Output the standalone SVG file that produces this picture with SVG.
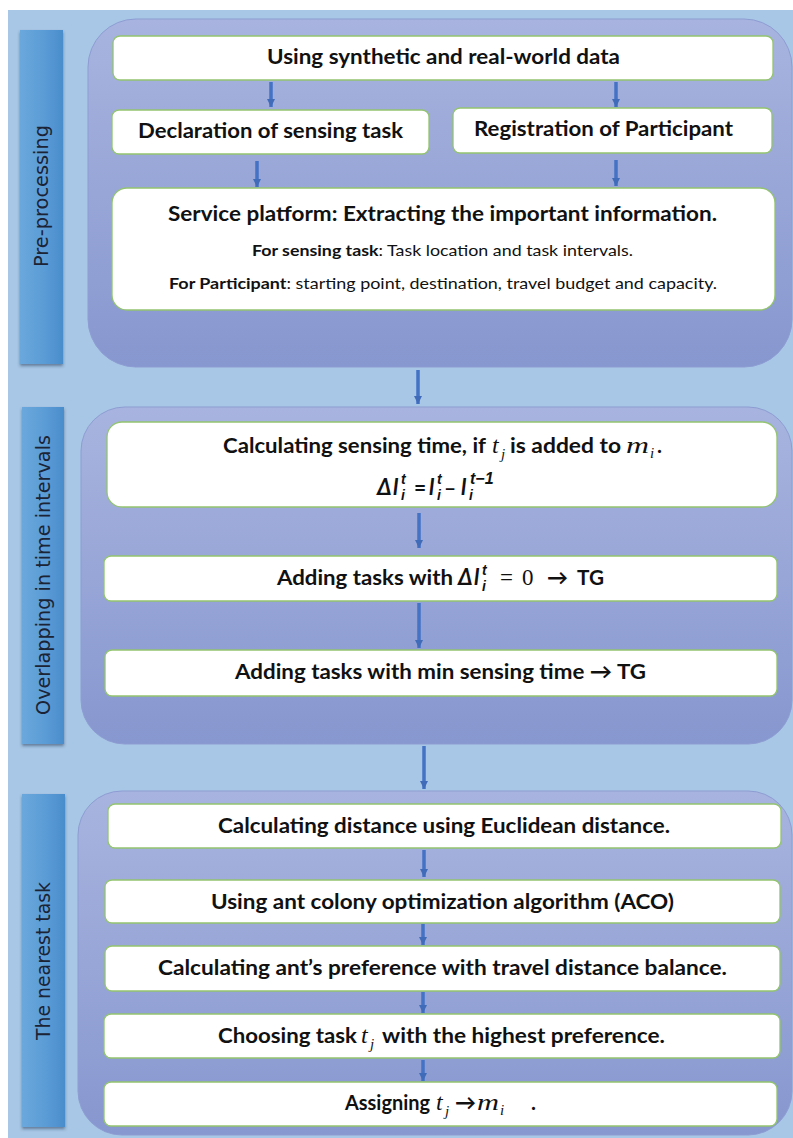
<svg xmlns="http://www.w3.org/2000/svg" width="793" height="1138" viewBox="0 0 793 1138">
<defs>
<linearGradient id="gPanel" x1="0" y1="0" x2="0" y2="1">
<stop offset="0" stop-color="#a8b4df"/>
<stop offset="1" stop-color="#8797cf"/>
</linearGradient>
<linearGradient id="gBar" x1="0" y1="0" x2="1" y2="0">
<stop offset="0" stop-color="#6aa8dc"/>
<stop offset="0.55" stop-color="#5b9cd6"/>
<stop offset="1" stop-color="#4a8dcc"/>
</linearGradient>
<filter id="sh" x="-20%" y="-5%" width="140%" height="115%">
<feDropShadow dx="0" dy="2" stdDeviation="1.5" flood-color="#2c3e5c" flood-opacity="0.55"/>
</filter>
<marker id="ah" viewBox="0 0 8 8" refX="8" refY="4" markerWidth="8" markerHeight="8" markerUnits="userSpaceOnUse" orient="auto">
<path d="M0,0 L8,4 L0,8 z" fill="#3f6bb8"/>
</marker>
<style>
.panel{fill:url(#gPanel);stroke:#8d9dd3;stroke-width:1}
.bar{fill:url(#gBar);filter:url(#sh)}
.box{fill:#ffffff;stroke:#93c46f;stroke-width:1.3}
.b{font-family:Lato,"Liberation Sans",sans-serif;font-weight:700;font-size:21px;fill:#111111}
.r{font-family:Lato,"Liberation Sans",sans-serif;font-weight:400;font-size:16px;fill:#111111}
.rb{font-family:Lato,"Liberation Sans",sans-serif;font-weight:700;font-size:16px;fill:#111111}
.m{font-family:"Liberation Serif","DejaVu Serif",serif;font-style:italic;font-size:24px;fill:#111111}
.mr{font-family:"Liberation Serif","DejaVu Serif",serif;font-size:23px;fill:#111111}
.ms{font-family:"Liberation Serif","DejaVu Serif",serif;font-style:italic;font-size:15px;fill:#111111}
.bi{font-family:Lato,"Liberation Sans",sans-serif;font-weight:700;font-style:italic;font-size:22px;fill:#111111}
.bis{font-family:"Liberation Sans",sans-serif;font-weight:700;font-style:italic;font-size:14px;fill:#111111}
.lab{font-family:"DejaVu Sans","Open Sans",sans-serif;font-size:19px;fill:#1b2335}
.c{text-anchor:middle}
.arr{stroke:#4472c4;stroke-width:3.5;fill:none;marker-end:url(#ah)}
</style>
</defs>

<rect x="8" y="10" width="785" height="1128" fill="#a8c6e5"/>

<g id="panel-preprocessing">
<rect class="panel" x="88" y="19" width="704" height="348" rx="48" ry="48"/>
</g>
<g id="panel-overlapping">
<rect class="panel" x="81" y="407" width="711" height="337" rx="44" ry="44"/>
</g>
<g id="panel-nearest">
<rect class="panel" x="78" y="791" width="714" height="344" rx="44" ry="44"/>
</g>

<g id="bar-preprocessing">
<rect class="bar" x="20" y="30" width="43" height="334"/>
<text class="lab c" transform="translate(48,196) rotate(-90)" textLength="142" lengthAdjust="spacingAndGlyphs">Pre-processing</text>
</g>
<g id="bar-overlapping">
<rect class="bar" x="22" y="407" width="42" height="337"/>
<text class="lab c" transform="translate(50,575) rotate(-90)" textLength="280" lengthAdjust="spacingAndGlyphs">Overlapping in time intervals</text>
</g>
<g id="bar-nearest">
<rect class="bar" x="22" y="794" width="43" height="333"/>
<text class="lab c" transform="translate(50,961) rotate(-90)" textLength="158" lengthAdjust="spacingAndGlyphs">The nearest task</text>
</g>

<g id="node-data">
<rect class="box" x="113" y="36" width="660" height="44" rx="7"/>
<text class="b c" x="443.5" y="64" textLength="353" lengthAdjust="spacingAndGlyphs">Using synthetic and real-world data</text>
</g>
<g id="node-declaration">
<rect class="box" x="112" y="110" width="317" height="44" rx="7"/>
<text class="b c" x="270.5" y="138" textLength="265" lengthAdjust="spacingAndGlyphs">Declaration of sensing task</text>
</g>
<g id="node-registration">
<rect class="box" x="453" y="108" width="319" height="45" rx="7"/>
<text class="b c" x="603.5" y="136" textLength="259" lengthAdjust="spacingAndGlyphs">Registration of Participant</text>
</g>
<g id="node-service">
<rect class="box" x="112" y="188" width="663" height="122" rx="15"/>
<text class="b c" x="442.5" y="221" textLength="549" lengthAdjust="spacingAndGlyphs">Service platform: Extracting the important information.</text>
<text class="r c" x="442.5" y="256" textLength="381" lengthAdjust="spacingAndGlyphs"><tspan class="rb">For sensing task</tspan>: Task location and task intervals.</text>
<text class="r c" x="443" y="289" textLength="548" lengthAdjust="spacingAndGlyphs"><tspan class="rb">For Participant</tspan>: starting point, destination, travel budget and capacity.</text>
</g>

<g id="node-sensing-time">
<rect class="box" x="107" y="422" width="670" height="85" rx="15"/>
<text class="b" x="223" y="453" textLength="263" lengthAdjust="spacingAndGlyphs">Calculating sensing time, if</text>
<text class="m" x="492" y="453">t</text>
<text class="ms" x="501" y="459">j</text>
<text class="b" x="510" y="453" textLength="111" lengthAdjust="spacingAndGlyphs">is added to</text>
<text class="m" x="626" y="453" textLength="23" lengthAdjust="spacingAndGlyphs">m</text>
<text class="ms" x="650" y="458">i</text>
<text class="b" x="657" y="453">.</text>
<text class="bi" x="377" y="495">Δ</text>
<text class="bi" x="393" y="495">l</text>
<text class="bis" x="401" y="484">t</text>
<text class="bis" x="401" y="500">i</text>
<text class="b" x="414" y="495">=</text>
<text class="bi" x="429" y="495">l</text>
<text class="bis" x="437" y="484">t</text>
<text class="bis" x="437" y="500">i</text>
<text class="b" x="444" y="495">–</text>
<text class="bi" x="461" y="495">l</text>
<text class="bis" x="470" y="484" style="font-size:16px">t−1</text>
<text class="bis" x="469" y="500">i</text>
</g>

<g id="node-adding-zero">
<rect class="box" x="104" y="556" width="673" height="45" rx="7"/>
<text class="b" x="277" y="585" textLength="176" lengthAdjust="spacingAndGlyphs">Adding tasks with</text>
<text class="bi" x="458" y="585">Δ</text>
<text class="bi" x="474" y="585">l</text>
<text class="bis" x="482" y="575">t</text>
<text class="bis" x="482" y="591">i</text>
<text class="mr" x="500" y="585">=</text>
<text class="mr" x="522" y="585">0</text>
<text class="b" x="547" y="585">→</text>
<text class="b" x="577" y="585" textLength="27" lengthAdjust="spacingAndGlyphs">TG</text>
</g>

<g id="node-adding-min">
<rect class="box" x="105" y="650" width="672" height="46" rx="7"/>
<text class="b c" x="440.5" y="679" textLength="411" lengthAdjust="spacingAndGlyphs">Adding tasks with min sensing time → TG</text>
</g>

<g id="node-euclidean">
<rect class="box" x="108" y="804" width="673" height="44" rx="7"/>
<text class="b c" x="444" y="833" textLength="452" lengthAdjust="spacingAndGlyphs">Calculating distance using Euclidean distance.</text>
</g>
<g id="node-aco">
<rect class="box" x="105" y="880" width="675" height="43" rx="7"/>
<text class="b c" x="442.5" y="909" textLength="463" lengthAdjust="spacingAndGlyphs">Using ant colony optimization algorithm (ACO)</text>
</g>
<g id="node-preference">
<rect class="box" x="105" y="946" width="675" height="45" rx="7"/>
<text class="b c" x="442.5" y="975" textLength="569" lengthAdjust="spacingAndGlyphs">Calculating ant’s preference with travel distance balance.</text>
</g>
<g id="node-choosing">
<rect class="box" x="104" y="1014" width="676" height="44" rx="7"/>
<text class="b" x="218" y="1043" textLength="139" lengthAdjust="spacingAndGlyphs">Choosing task</text>
<text class="m" x="361" y="1043">t</text>
<text class="ms" x="370" y="1049">j</text>
<text class="b" x="382" y="1043" textLength="283" lengthAdjust="spacingAndGlyphs">with the highest preference.</text>
</g>
<g id="node-assigning">
<rect class="box" x="104" y="1082" width="673" height="44" rx="7"/>
<text class="b" x="345" y="1110" textLength="85" lengthAdjust="spacingAndGlyphs">Assigning</text>
<text class="m" x="436" y="1110">t</text>
<text class="ms" x="445" y="1116">j</text>
<text class="b" x="455" y="1110">→</text>
<text class="m" x="477" y="1110" textLength="22" lengthAdjust="spacingAndGlyphs">m</text>
<text class="ms" x="500" y="1115">i</text>
<text class="b" x="531" y="1110">.</text>
</g>

<g id="connectors">
<line class="arr" x1="271" y1="82" x2="271" y2="107"/>
<line class="arr" x1="616" y1="82" x2="616" y2="107"/>
<line class="arr" x1="257" y1="161" x2="257" y2="187"/>
<line class="arr" x1="616" y1="160" x2="616" y2="186"/>
<line class="arr" x1="418" y1="370" x2="418" y2="404"/>
<line class="arr" x1="419" y1="513" x2="419" y2="548"/>
<line class="arr" x1="419" y1="603" x2="419" y2="648"/>
<line class="arr" x1="424" y1="746" x2="424" y2="789"/>
<line class="arr" x1="424" y1="850" x2="424" y2="877"/>
<line class="arr" x1="423" y1="924" x2="423" y2="945"/>
<line class="arr" x1="423" y1="992" x2="423" y2="1013"/>
<line class="arr" x1="423" y1="1060" x2="423" y2="1081"/>
</g>
</svg>
